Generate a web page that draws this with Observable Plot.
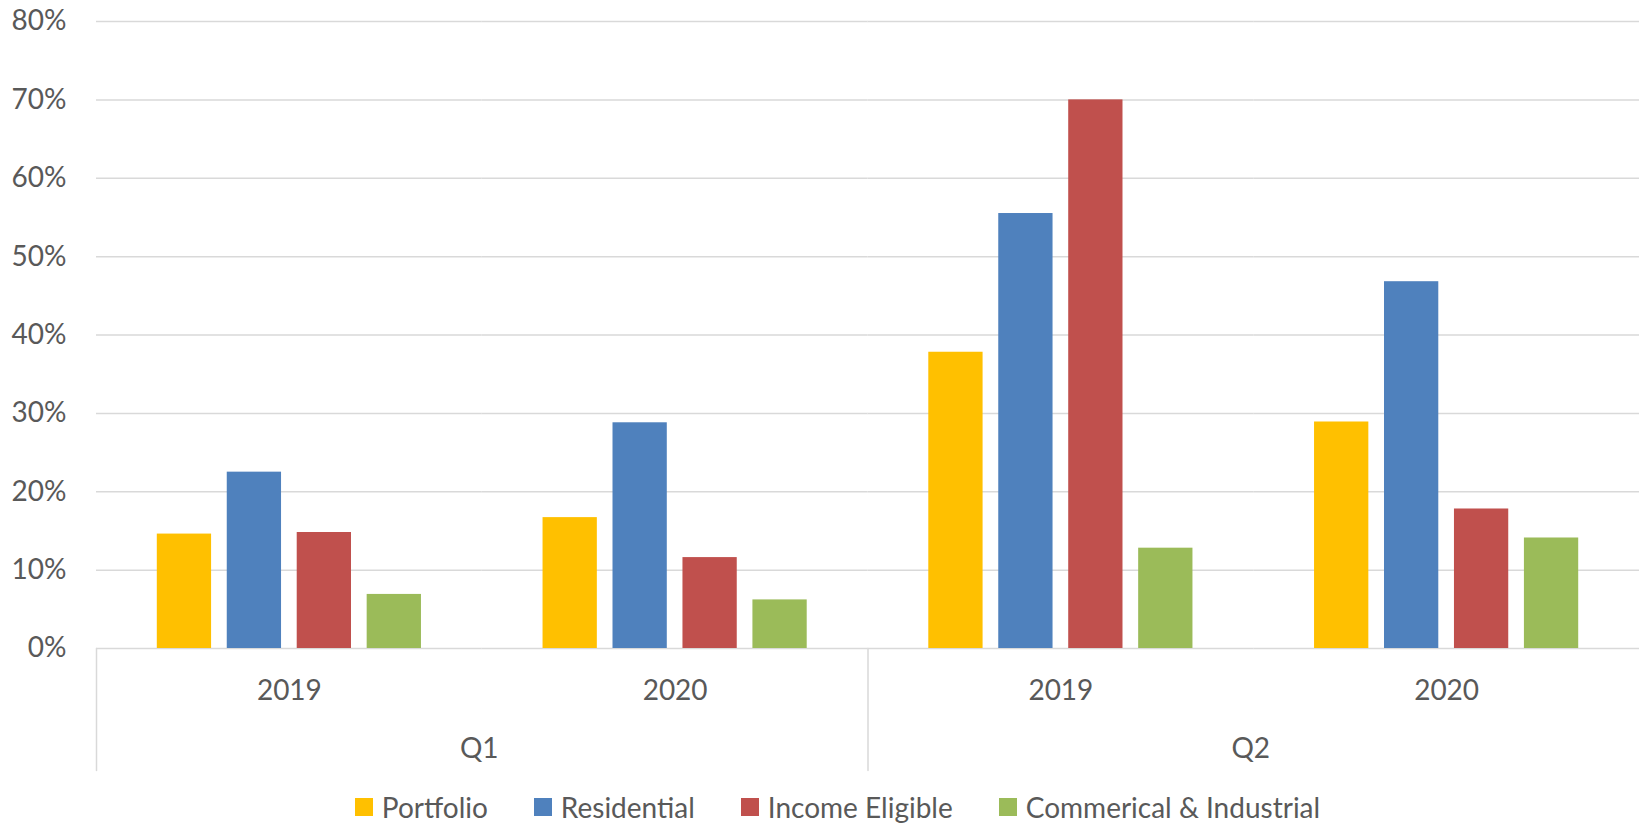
<!DOCTYPE html>
<html><head><meta charset="utf-8">
<script src="https://cdn.jsdelivr.net/npm/d3@7"></script>
<script src="https://cdn.jsdelivr.net/npm/@observablehq/plot@0.6"></script>
<style>
html,body{margin:0;padding:0;background:#fff;}
#chart{width:1639px;}
.lg-swatch{margin-right:46px !important;}
.lg-swatch > svg{margin-right:9px !important;}
</style></head><body><div id="chart"></div>
<script>
// Categories
const quarters = ["Q1", "Q2"];
const years = ["2019", "2020"];
const series = ["Portfolio", "Residential", "Income Eligible", "Commerical & Industrial"];
const seriesColors = ["#FFC000", "#4F81BD", "#C0504D", "#9BBB59"];
// Values (%), order: Q1 2019, Q1 2020, Q2 2019, Q2 2020
const portfolio = [14.6, 16.7, 37.8, 28.9];
const residential = [22.5, 28.8, 55.5, 46.8];
const incomeEligible = [14.8, 11.6, 70.0, 17.8];
const commercialIndustrial = [6.9, 6.2, 12.8, 14.1];
// Tick labels
const yTicks = [0, 10, 20, 30, 40, 50, 60, 70, 80];

const groups = quarters.flatMap(q => years.map(y => ({quarter: q, year: y, key: `${q} ${y}`})));
const values = [portfolio, residential, incomeEligible, commercialIndustrial];
const rows = groups.flatMap((g, gi) => series.map((s, si) => ({...g, series: s, value: values[si][gi]})));
const quarterStarts = quarters.map(q => ({quarter: q, key: `${q} ${years[0]}`}));
const lineShape = {draw(context, l) { context.moveTo(0, 0); context.lineTo(0, -l); }};

const font = "Lato, 'Open Sans', sans-serif";
const fontSize = 28;
const textColor = "#595959";
const gridColor = "#d9d9d9";

const plot = Plot.plot({
  width: 1639, height: 786,
  marginTop: 21, marginLeft: 96, marginRight: 0, marginBottom: 138,
  style: {fontFamily: font, fontSize: fontSize + "px", color: textColor, background: "#fff", overflow: "visible"},
  fx: {domain: groups.map(g => g.key), padding: 0, round: false, label: null},
  x: {domain: series, paddingInner: 0.224, paddingOuter: 0.869, round: false, axis: null},
  y: {domain: [0, 80], axis: null},
  color: {domain: series, range: seriesColors},
  marks: [
    Plot.gridY(yTicks, {stroke: gridColor, strokeOpacity: 1, strokeWidth: 1.5}),
    Plot.axisY(yTicks, {tickSize: 0, tickPadding: 30, tickFormat: d => d + "%", label: null, fontSize, fill: textColor}),
    Plot.barY(rows, {fx: "key", x: "series", y: "value", fill: "series"}),
    Plot.axisFx({anchor: "bottom", tickSize: 0, tickPadding: 32, tickFormat: k => k.split(" ")[1], label: null, fontSize, fill: textColor}),
    Plot.text(quarterStarts, {fx: "key", text: "quarter", frameAnchor: "bottom-right", textAnchor: "middle", dx: -3, dy: 101, lineAnchor: "middle", fill: textColor, fontSize}),
    Plot.vector(quarterStarts, {fx: "key", frameAnchor: "bottom-left", length: 122, rotate: 180, anchor: "start", stroke: gridColor, strokeWidth: 1.5, shape: lineShape})
  ]
});

const legend = Plot.legend({
  color: {domain: series, range: seriesColors},
  swatchSize: 18,
  className: "lg",
  style: {fontFamily: font, fontSize: fontSize + "px", color: textColor, justifyContent: "center", height: "42px", minHeight: "42px", margin: "0", paddingLeft: "82px"}
});

const chart = document.getElementById("chart");
chart.appendChild(plot);
chart.appendChild(legend);
</script></body></html>
